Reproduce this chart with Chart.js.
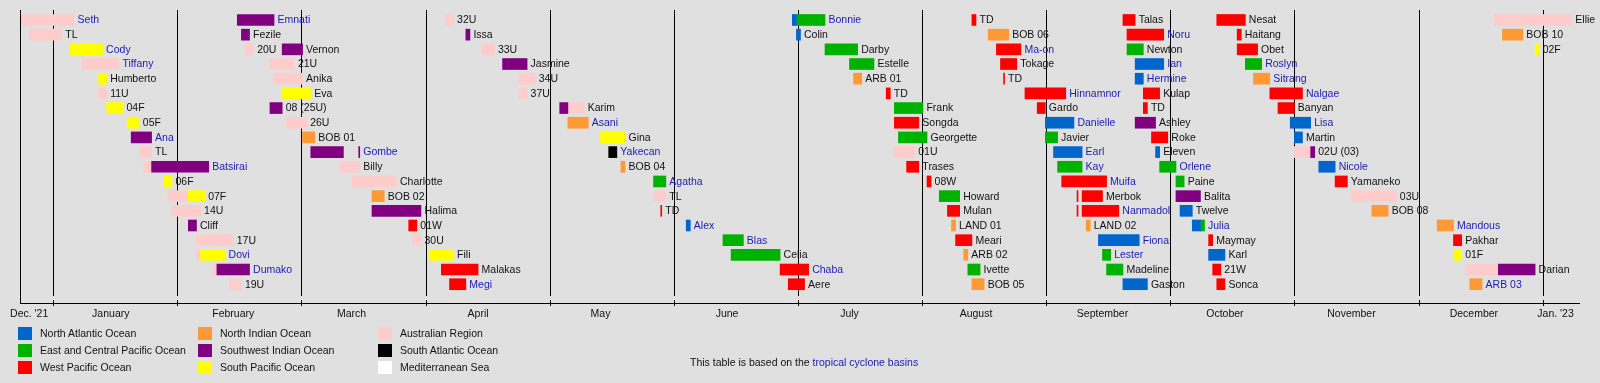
<!DOCTYPE html>
<html lang="en">
<head>
<meta charset="UTF-8">
<title>Timeline of tropical cyclones in 2022</title>
<script src="https://cdn.jsdelivr.net/npm/chart.js"></script>
<style>
  body { margin: 0; background: #e0e0e0; }
  #wrap { position: relative; width: 1600px; height: 383px; background: #e0e0e0;
          font-family: "Liberation Sans", Arial, sans-serif; font-size: 10.5px; color: #111; }
  #timeline { position: absolute; left: 0; top: 0; }
  .swatch { position: absolute; width: 14px; height: 13px; }
  .key { position: absolute; white-space: nowrap; line-height: 13px; }
  .link { color: #1a1ab4; }
</style>
</head>
<body>
<div id="wrap">
  <canvas id="timeline" width="1600" height="383"></canvas>
</div>
<script>
// basins
const basinKeys = ['NATL', 'EPAC', 'WPAC', 'NIO', 'SWIO', 'SPAC', 'AUS', 'SATL', 'MED'];
const basinNames = ['North Atlantic Ocean', 'East and Central Pacific Ocean', 'West Pacific Ocean',
  'North Indian Ocean', 'Southwest Indian Ocean', 'South Pacific Ocean',
  'Australian Region', 'South Atlantic Ocean', 'Mediterranean Sea'];
const basinColors = ['#0066cc', '#00b200', '#ff0000', '#ff9933', '#800080', '#ffff00', '#ffcccc', '#000000', '#ffffff'];

// time axis
const axisStart = '2021-12-24';
const axisEnd = '2023-01-10';
const monthLabels = ["Dec. '21", 'January', 'February', 'March', 'April', 'May', 'June',
  'July', 'August', 'September', 'October', 'November', 'December', "Jan. '23"];
const monthLabelDates = ['2021-12-26', '2022-01-15', '2022-02-14', '2022-03-15', '2022-04-15', '2022-05-15',
  '2022-06-15', '2022-07-15', '2022-08-15', '2022-09-15', '2022-10-15', '2022-11-15', '2022-12-15', '2023-01-04'];

// storms
const stormNames = [
  'Seth', 'TL', 'Cody', 'Tiffany', 'Humberto', '11U', '04F', '05F', 'Ana', 'TL',
  'Batsirai', '06F', '07F', '14U', 'Cliff', '17U', 'Dovi', 'Dumako', '19U',
  'Emnati', 'Fezile', '20U', 'Vernon', '21U', 'Anika', 'Eva', '08 (25U)', '26U', 'BOB 01',
  'Gombe', 'Billy', 'Charlotte', 'BOB 02', 'Halima', '01W', '30U', 'Fili', 'Malakas', 'Megi',
  '32U', 'Issa', '33U', 'Jasmine', '34U', '37U', 'Karim', 'Asani', 'Gina', 'Yakecan',
  'BOB 04', 'Agatha', 'TL', 'TD', 'Alex', 'Blas', 'Celia', 'Chaba', 'Aere',
  'Bonnie', 'Colin', 'Darby', 'Estelle', 'ARB 01', 'TD', 'Frank', 'Songda', 'Georgette', '01U',
  'Trases', '08W', 'Howard', 'Mulan', 'LAND 01', 'Meari', 'ARB 02', 'Ivette', 'BOB 05',
  'TD', 'BOB 06', 'Ma-on', 'Tokage', 'TD', 'Hinnamnor', 'Gardo', 'Danielle', 'Javier', 'Earl',
  'Kay', 'Muifa', 'Merbok', 'Nanmadol', 'LAND 02', 'Fiona', 'Lester', 'Madeline', 'Gaston',
  'Talas', 'Noru', 'Newton', 'Ian', 'Hermine', 'Kulap', 'TD', 'Ashley', 'Roke', 'Eleven',
  'Orlene', 'Paine', 'Balita', 'Twelve', 'Julia', 'Maymay', 'Karl', '21W', 'Sonca',
  'Nesat', 'Haitang', 'Obet', 'Roslyn', 'Sitrang', 'Nalgae', 'Banyan', 'Lisa', 'Martin', '02U (03)',
  'Nicole', 'Yamaneko', '03U', 'BOB 08', 'Mandous', 'Pakhar', '01F', 'Darian', 'ARB 03',
  'Ellie', 'BOB 10', '02F'
];
const stormRows = [
  0, 1, 2, 3, 4, 5, 6, 7, 8, 9, 10, 11, 12, 13, 14, 15, 16, 17, 18,
  0, 1, 2, 2, 3, 4, 5, 6, 7, 8, 9, 10, 11, 12, 13, 14, 15, 16, 17, 18,
  0, 1, 2, 3, 4, 5, 6, 7, 8, 9, 10, 11, 12, 13, 14, 15, 16, 17, 18,
  0, 1, 2, 3, 4, 5, 6, 7, 8, 9, 10, 11, 12, 13, 14, 15, 16, 17, 18,
  0, 1, 2, 3, 4, 5, 6, 7, 8, 9, 10, 11, 12, 13, 14, 15, 16, 17, 18,
  0, 1, 2, 3, 4, 5, 6, 7, 8, 9, 10, 11, 12, 13, 14, 15, 16, 17, 18,
  0, 1, 2, 3, 4, 5, 6, 7, 8, 9, 10, 11, 12, 13, 14, 15, 16, 17, 18,
  0, 1, 2
];
// names shown as links (blue)
const linkedStorms = ['Seth', 'Cody', 'Tiffany', 'Ana', 'Batsirai', 'Dovi', 'Dumako', 'Emnati', 'Gombe',
  'Megi', 'Asani', 'Yakecan', 'Agatha', 'Alex', 'Blas', 'Chaba', 'Bonnie', 'Ma-on', 'Hinnamnor',
  'Danielle', 'Earl', 'Kay', 'Muifa', 'Nanmadol', 'Fiona', 'Lester', 'Noru', 'Ian', 'Hermine',
  'Orlene', 'Julia', 'Roslyn', 'Sitrang', 'Nalgae', 'Lisa', 'Nicole', 'Mandous', 'ARB 03'];
// [basin, from, to] for each part of a storm's life
const stormTracks = [
  [['AUS', '2021-12-24', '2022-01-06']],
  [['AUS', '2021-12-26', '2022-01-03']],
  [['SPAC', '2022-01-05', '2022-01-13']],
  [['AUS', '2022-01-08', '2022-01-17']],
  [['SPAC', '2022-01-12', '2022-01-14']],
  [['AUS', '2022-01-12', '2022-01-14']],
  [['SPAC', '2022-01-14', '2022-01-18']],
  [['SPAC', '2022-01-19', '2022-01-22']],
  [['SWIO', '2022-01-20', '2022-01-25']],
  [['AUS', '2022-01-22', '2022-01-25']],
  [['AUS', '2022-01-23', '2022-01-25'], ['SWIO', '2022-01-25', '2022-02-08']],
  [['SPAC', '2022-01-28', '2022-01-30']],
  [['AUS', '2022-01-29', '2022-02-03'], ['SPAC', '2022-02-03', '2022-02-07']],
  [['AUS', '2022-01-30', '2022-02-06']],
  [['SWIO', '2022-02-03', '2022-02-05']],
  [['AUS', '2022-02-05', '2022-02-14']],
  [['AUS', '2022-02-05', '2022-02-06'], ['SPAC', '2022-02-06', '2022-02-12']],
  [['AUS', '2022-02-09', '2022-02-10'], ['SWIO', '2022-02-10', '2022-02-18']],
  [['AUS', '2022-02-13', '2022-02-16']],

  [['SWIO', '2022-02-15', '2022-02-24']],
  [['SWIO', '2022-02-16', '2022-02-18']],
  [['AUS', '2022-02-17', '2022-02-19']],
  [['SWIO', '2022-02-26', '2022-03-03']],
  [['AUS', '2022-02-23', '2022-03-01']],
  [['AUS', '2022-02-24', '2022-03-03']],
  [['SPAC', '2022-02-26', '2022-03-05']],
  [['SWIO', '2022-02-23', '2022-02-26']],
  [['AUS', '2022-02-27', '2022-03-04']],
  [['NIO', '2022-03-03', '2022-03-06']],
  [['SWIO', '2022-03-05', '2022-03-13'], ['SWIO', '2022-03-17', '2022-03-17']],
  [['AUS', '2022-03-12', '2022-03-17']],
  [['AUS', '2022-03-15', '2022-03-26']],
  [['NIO', '2022-03-20', '2022-03-23']],
  [['SWIO', '2022-03-20', '2022-04-01']],
  [['WPAC', '2022-03-29', '2022-03-31']],
  [['AUS', '2022-03-30', '2022-04-01']],
  [['SPAC', '2022-04-03', '2022-04-09']],
  [['WPAC', '2022-04-06', '2022-04-15']],
  [['WPAC', '2022-04-08', '2022-04-12']],

  [['AUS', '2022-04-07', '2022-04-09']],
  [['SWIO', '2022-04-12', '2022-04-13']],
  [['AUS', '2022-04-16', '2022-04-19']],
  [['SWIO', '2022-04-21', '2022-04-27']],
  [['AUS', '2022-04-25', '2022-04-29']],
  [['AUS', '2022-04-25', '2022-04-27']],
  [['SWIO', '2022-05-05', '2022-05-07'], ['AUS', '2022-05-07', '2022-05-11']],
  [['NIO', '2022-05-07', '2022-05-12']],
  [['SPAC', '2022-05-15', '2022-05-21']],
  [['SATL', '2022-05-17', '2022-05-19']],
  [['NIO', '2022-05-20', '2022-05-21']],
  [['EPAC', '2022-05-28', '2022-05-31']],
  [['AUS', '2022-05-28', '2022-05-31']],
  [['WPAC', '2022-05-30', '2022-05-30']],
  [['NATL', '2022-06-05', '2022-06-06']],
  [['EPAC', '2022-06-14', '2022-06-19']],
  [['EPAC', '2022-06-16', '2022-06-28']],
  [['WPAC', '2022-06-28', '2022-07-05']],
  [['WPAC', '2022-06-30', '2022-07-04']],

  [['NATL', '2022-07-01', '2022-07-02'], ['EPAC', '2022-07-02', '2022-07-09']],
  [['NATL', '2022-07-02', '2022-07-03']],
  [['EPAC', '2022-07-09', '2022-07-17']],
  [['EPAC', '2022-07-15', '2022-07-21']],
  [['NIO', '2022-07-16', '2022-07-18']],
  [['WPAC', '2022-07-24', '2022-07-25']],
  [['EPAC', '2022-07-26', '2022-08-02']],
  [['WPAC', '2022-07-26', '2022-08-01']],
  [['EPAC', '2022-07-27', '2022-08-03']],
  [['AUS', '2022-07-26', '2022-07-31']],
  [['WPAC', '2022-07-29', '2022-08-01']],
  [['WPAC', '2022-08-03', '2022-08-04']],
  [['EPAC', '2022-08-06', '2022-08-11']],
  [['WPAC', '2022-08-08', '2022-08-11']],
  [['NIO', '2022-08-09', '2022-08-10']],
  [['WPAC', '2022-08-10', '2022-08-14']],
  [['NIO', '2022-08-12', '2022-08-13']],
  [['EPAC', '2022-08-13', '2022-08-16']],
  [['NIO', '2022-08-14', '2022-08-17']],

  [['WPAC', '2022-08-14', '2022-08-15']],
  [['NIO', '2022-08-18', '2022-08-23']],
  [['WPAC', '2022-08-20', '2022-08-26']],
  [['WPAC', '2022-08-21', '2022-08-25']],
  [['WPAC', '2022-08-22', '2022-08-22']],
  [['WPAC', '2022-08-27', '2022-09-06']],
  [['WPAC', '2022-08-30', '2022-09-01']],
  [['NATL', '2022-09-01', '2022-09-08']],
  [['EPAC', '2022-09-01', '2022-09-04']],
  [['NATL', '2022-09-03', '2022-09-10']],
  [['EPAC', '2022-09-04', '2022-09-10']],
  [['WPAC', '2022-09-05', '2022-09-16']],
  [['WPAC', '2022-09-09', '2022-09-09'], ['WPAC', '2022-09-10', '2022-09-15']],
  [['WPAC', '2022-09-09', '2022-09-09'], ['WPAC', '2022-09-10', '2022-09-19']],
  [['NIO', '2022-09-11', '2022-09-12']],
  [['NATL', '2022-09-14', '2022-09-24']],
  [['EPAC', '2022-09-15', '2022-09-17']],
  [['EPAC', '2022-09-16', '2022-09-20']],
  [['NATL', '2022-09-20', '2022-09-26']],

  [['WPAC', '2022-09-20', '2022-09-23']],
  [['WPAC', '2022-09-21', '2022-09-30']],
  [['EPAC', '2022-09-21', '2022-09-25']],
  [['NATL', '2022-09-23', '2022-09-30']],
  [['NATL', '2022-09-23', '2022-09-25']],
  [['WPAC', '2022-09-25', '2022-09-29']],
  [['WPAC', '2022-09-25', '2022-09-26']],
  [['SWIO', '2022-09-23', '2022-09-28']],
  [['WPAC', '2022-09-27', '2022-10-01']],
  [['NATL', '2022-09-28', '2022-09-29']],
  [['EPAC', '2022-09-29', '2022-10-03']],
  [['EPAC', '2022-10-03', '2022-10-05']],
  [['SWIO', '2022-10-03', '2022-10-09']],
  [['NATL', '2022-10-04', '2022-10-07']],
  [['NATL', '2022-10-07', '2022-10-09'], ['EPAC', '2022-10-09', '2022-10-10']],
  [['WPAC', '2022-10-11', '2022-10-12']],
  [['NATL', '2022-10-11', '2022-10-15']],
  [['WPAC', '2022-10-12', '2022-10-14']],
  [['WPAC', '2022-10-13', '2022-10-15']],

  [['WPAC', '2022-10-13', '2022-10-20']],
  [['WPAC', '2022-10-18', '2022-10-19']],
  [['WPAC', '2022-10-18', '2022-10-23']],
  [['EPAC', '2022-10-20', '2022-10-24']],
  [['NIO', '2022-10-22', '2022-10-26']],
  [['WPAC', '2022-10-26', '2022-11-03']],
  [['WPAC', '2022-10-28', '2022-11-01']],
  [['NATL', '2022-10-31', '2022-11-05']],
  [['NATL', '2022-11-01', '2022-11-03']],
  [['AUS', '2022-11-01', '2022-11-05'], ['SWIO', '2022-11-05', '2022-11-06']],
  [['NATL', '2022-11-07', '2022-11-11']],
  [['WPAC', '2022-11-11', '2022-11-14']],
  [['AUS', '2022-11-15', '2022-11-26']],
  [['NIO', '2022-11-20', '2022-11-24']],
  [['NIO', '2022-12-06', '2022-12-10']],
  [['WPAC', '2022-12-10', '2022-12-12']],
  [['SPAC', '2022-12-10', '2022-12-12']],
  [['AUS', '2022-12-13', '2022-12-21'], ['SWIO', '2022-12-21', '2022-12-30']],
  [['NIO', '2022-12-14', '2022-12-17']],

  [['AUS', '2022-12-20', '2023-01-08']],
  [['NIO', '2022-12-22', '2022-12-27']],
  [['SPAC', '2022-12-30', '2022-12-31']]
];

const linkColor = '#1a1ab4';
const textColor = '#111';
const gridStep = 365 / 12;

function dayOf(s) {
  const [y, m, d] = s.split('-').map(Number);
  return (Date.UTC(y, m - 1, d) - Date.UTC(2022, 0, 1)) / 864e5;
}

Chart.defaults.font.family = '"Liberation Sans", Arial, sans-serif';
Chart.defaults.font.size = 10.5;

const datasets = basinKeys.map((key, b) => ({
  label: basinNames[b],
  backgroundColor: basinColors[b],
  data: [],
  grouped: false,
  barThickness: 11,
  minBarLength: 1,
  borderWidth: 0
}));
stormTracks.forEach((track, s) => {
  track.forEach(([basin, from, to]) => {
    datasets[basinKeys.indexOf(basin)].data.push({ x: [dayOf(from), dayOf(to)], y: stormRows[s] });
  });
});

// month grid, axis line and storm name labels
const timelinePlugin = {
  id: 'timeline',
  beforeDatasetsDraw(chart) {
    const { ctx, chartArea: a, scales: { x } } = chart;
    ctx.save();
    ctx.strokeStyle = '#000';
    ctx.lineWidth = 1;
    ctx.beginPath();
    for (let k = 0; k <= 12; k++) {
      const px = Math.floor(x.getPixelForValue(k * gridStep)) + 0.5;
      ctx.moveTo(px, a.top);
      ctx.lineTo(px, a.bottom - 7);
      ctx.moveTo(px, a.bottom - 3);
      ctx.lineTo(px, a.bottom + 3);
    }
    ctx.moveTo(a.left - 0.5, a.top);
    ctx.lineTo(a.left - 0.5, a.bottom);
    ctx.moveTo(a.left - 1, a.bottom + 0.5);
    ctx.lineTo(a.right, a.bottom + 0.5);
    ctx.stroke();
    ctx.restore();
  },
  afterDatasetsDraw(chart) {
    const { ctx, scales: { x, y } } = chart;
    ctx.save();
    ctx.font = '10.5px "Liberation Sans", Arial, sans-serif';
    ctx.textBaseline = 'middle';
    stormNames.forEach((name, s) => {
      const track = stormTracks[s];
      const end = dayOf(track[track.length - 1][2]);
      ctx.fillStyle = linkedStorms.includes(name) ? linkColor : textColor;
      ctx.fillText(name, x.getPixelForValue(end) + 3.5, y.getPixelForValue(stormRows[s]) + 0.5);
    });
    ctx.restore();
  }
};

new Chart(document.getElementById('timeline'), {
  type: 'bar',
  data: { datasets: datasets },
  options: {
    indexAxis: 'y',
    responsive: false,
    animation: false,
    layout: { padding: { left: 21, right: 20, top: 10, bottom: 0 } },
    plugins: { legend: { display: false }, tooltip: { enabled: false } },
    scales: {
      x: {
        type: 'linear',
        min: dayOf(axisStart),
        max: dayOf(axisEnd),
        grid: { display: false, drawTicks: false },
        border: { display: false },
        afterBuildTicks: sc => { sc.ticks = monthLabelDates.map(d => ({ value: dayOf(d) })); },
        afterFit: sc => { sc.height = 80; },
        ticks: {
          autoSkip: false, maxRotation: 0, padding: 5, color: textColor,
          callback: (v, i) => monthLabels[i]
        }
      },
      y: { type: 'linear', display: false, reverse: true, offset: false, min: -0.68, max: 19.28 }
    }
  },
  plugins: [timelinePlugin]
});

// basin key below the chart
const wrap = document.getElementById('wrap');
basinNames.forEach((name, i) => {
  const col = Math.floor(i / 3), row = i % 3;
  const sw = document.createElement('div');
  sw.className = 'swatch';
  sw.style.left = (18 + col * 180) + 'px';
  sw.style.top = (327 + row * 17) + 'px';
  sw.style.background = basinColors[i];
  const tx = document.createElement('div');
  tx.className = 'key';
  tx.style.left = (40 + col * 180) + 'px';
  tx.style.top = (327 + row * 17) + 'px';
  tx.textContent = name;
  wrap.append(sw, tx);
});
const note = document.createElement('div');
note.className = 'key';
note.style.left = '690px';
note.style.top = '356px';
note.innerHTML = 'This table is based on the <span class="link">tropical cyclone basins</span>';
wrap.append(note);
</script>
</body>
</html>
